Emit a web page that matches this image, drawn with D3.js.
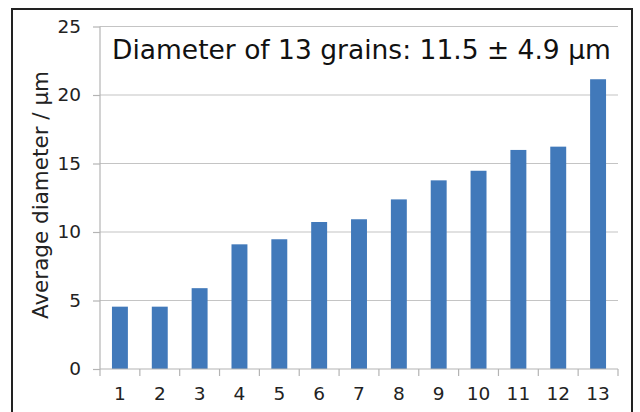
<!DOCTYPE html>
<html>
<head>
<meta charset="utf-8">
<script src="https://cdn.jsdelivr.net/npm/d3@7"></script>
<style>
  body { margin: 0; background: #fff; }
  svg { display: block; font-family: "DejaVu Sans", Verdana, sans-serif; }
</style>
</head>
<body>
<div class="canvas"></div>
<script>
// data
const grains = ['1', '2', '3', '4', '5', '6', '7', '8', '9', '10', '11', '12', '13'];
const diameters = [4.55, 4.55, 5.9, 9.1, 9.47, 10.73, 10.93, 12.38, 13.77, 14.47, 15.99, 16.23, 21.15];
const yTicks = [0, 5, 10, 15, 20, 25];
const title = 'Diameter of 13 grains: 11.5 ± 4.9 μm';
const yLabel = 'Average diameter / μm';

const width = 640;
const height = 412;

const svg = d3.select('.canvas')
	.append('svg')
	.attr('width', width)
	.attr('height', height);

// outer frame
svg.append('rect')
	.attr('x', 12)
	.attr('y', 9)
	.attr('width', 620)
	.attr('height', 420)
	.attr('fill', 'none')
	.attr('stroke', '#222')
	.attr('stroke-width', 2);

const margin = { top: 26.5, right: 22, bottom: 43, left: 100 };
const graphWidth = width - margin.left - margin.right;
const graphHeight = height - margin.top - margin.bottom;

const graph = svg.append('g')
	.attr('transform', `translate(${margin.left}, ${margin.top})`);

const x = d3.scaleBand()
	.domain(grains)
	.range([0, graphWidth])
	.paddingInner(0.6)
	.paddingOuter(0.3);

const y = d3.scaleLinear()
	.domain([0, 25])
	.range([graphHeight, 0]);

// gridlines
graph.append('g')
	.selectAll('line')
	.data(yTicks.filter(t => t > 0))
	.enter()
	.append('line')
	.attr('x1', 0)
	.attr('x2', graphWidth)
	.attr('y1', d => y(d))
	.attr('y2', d => y(d))
	.attr('stroke', '#c4c4c4')
	.attr('stroke-width', 1.2);

// bars
graph.selectAll('rect.bar')
	.data(diameters)
	.enter()
	.append('rect')
	.attr('class', 'bar')
	.attr('x', (d, i) => x(grains[i]))
	.attr('width', x.bandwidth())
	.attr('y', d => y(d))
	.attr('height', d => graphHeight - y(d))
	.attr('fill', '#4179ba');

// y axis
const yAxis = d3.axisLeft(y)
	.tickValues(yTicks)
	.tickSize(7)
	.tickPadding(12);

const yAxisGroup = graph.append('g').call(yAxis);
yAxisGroup.select('.domain').attr('stroke', '#b4b4b4').attr('stroke-width', 1.2).attr('d', `M-0,${graphHeight}V0`);
yAxisGroup.selectAll('.tick line').attr('stroke', '#b4b4b4').attr('stroke-width', 1.2);
yAxisGroup.selectAll('.tick text')
	.attr('font-size', 18.5)
	.attr('fill', '#222')
	.attr('font-family', '"DejaVu Sans", Verdana, sans-serif');

// x axis, ticks on the band edges
const xAxisGroup = graph.append('g')
	.attr('transform', `translate(0, ${graphHeight})`);

xAxisGroup.append('line')
	.attr('x1', 0)
	.attr('x2', graphWidth)
	.attr('stroke', '#b4b4b4')
	.attr('stroke-width', 1.2);

const step = x.step();
const edges = grains.map(g => x(g) - step * 0.3).concat([graphWidth]);
xAxisGroup.selectAll('line.tick')
	.data(edges)
	.enter()
	.append('line')
	.attr('class', 'tick')
	.attr('x1', d => d)
	.attr('x2', d => d)
	.attr('y1', 0)
	.attr('y2', 7)
	.attr('stroke', '#b4b4b4')
	.attr('stroke-width', 1.2);

xAxisGroup.selectAll('text')
	.data(grains)
	.enter()
	.append('text')
	.attr('x', d => x(d) + x.bandwidth() / 2)
	.attr('y', 31)
	.attr('text-anchor', 'middle')
	.attr('font-size', 18.5)
	.attr('fill', '#222')
	.text(d => d);

// y label
svg.append('text')
	.attr('transform', 'translate(48, 195) rotate(-90)')
	.attr('text-anchor', 'middle')
	.attr('font-size', 21.5)
	.attr('fill', '#222')
	.text(yLabel);

// title inside plot
svg.append('text')
	.attr('x', 112)
	.attr('y', 59)
	.attr('font-size', 26.5)
	.attr('fill', '#111')
	.text(title);
</script>
</body>
</html>
